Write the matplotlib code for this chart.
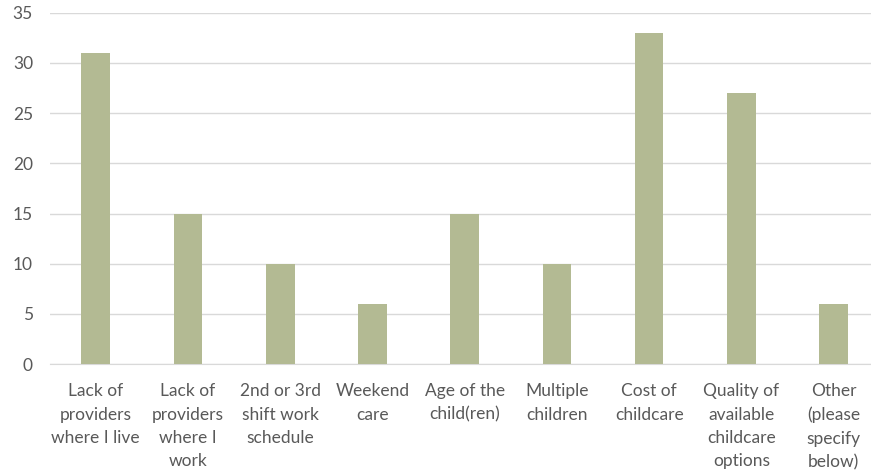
import matplotlib
matplotlib.use("Agg")
import matplotlib.pyplot as plt
import numpy as np

categories = [
    "Lack of\nproviders\nwhere I live",
    "Lack of\nproviders\nwhere I\nwork",
    "2nd or 3rd\nshift work\nschedule",
    "Weekend\ncare",
    "Age of the\nchild(ren)",
    "Multiple\nchildren",
    "Cost of\nchildcare",
    "Quality of\navailable\nchildcare\noptions",
    "Other\n(please\nspecify\nbelow)",
]
values = [31, 15, 10, 6, 15, 10, 33, 27, 6]
y_ticks = [0, 5, 10, 15, 20, 25, 30, 35]

plt.rcParams["font.family"] = ["Lato", "DejaVu Sans"]
TEXT = "#595959"

fig = plt.figure(figsize=(8.71, 4.74), dpi=100)
ax = fig.add_axes([0.057, 0.232, 0.953, 0.741])

x = np.arange(len(categories))
ax.bar(x, values, width=0.31, color="#B3BA93", zorder=3)

ax.set_xlim(-0.5, len(categories) - 0.5)
ax.set_ylim(0, 35)
ax.set_yticks(y_ticks)
ax.set_xticks(x)
ax.set_xticklabels(categories, linespacing=1.55, va="top")
ax.tick_params(axis="both", length=0, colors=TEXT, labelsize=12.5)
ax.tick_params(axis="x", pad=14)
ax.tick_params(axis="y", pad=12)
ax.grid(axis="y", color="#D9D9D9", linewidth=1, zorder=0)
for s in ("top", "right", "left"):
    ax.spines[s].set_visible(False)
ax.spines["bottom"].set_color("#D9D9D9")

fig.savefig("out.png", dpi=100)
